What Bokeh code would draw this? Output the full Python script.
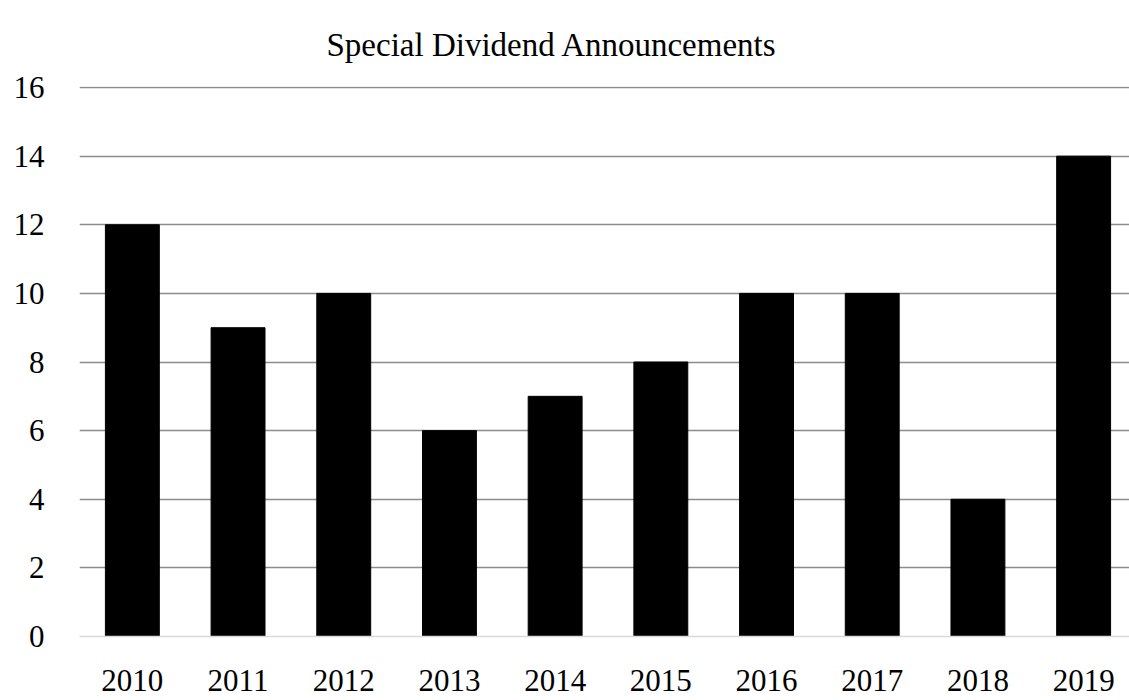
from bokeh.plotting import figure
from bokeh.models import Range1d, FixedTicker, Title
from bokeh.embed import file_html
from bokeh.resources import INLINE

years = ["2010", "2011", "2012", "2013", "2014", "2015", "2016", "2017", "2018", "2019"]
counts = [12, 9, 10, 6, 7, 8, 10, 10, 4, 14]
y_ticks = [0, 2, 4, 6, 8, 10, 12, 14, 16]
title_text = "Special Dividend Announcements"

xs = list(range(len(years)))
FONT = "Liberation Serif"

p = figure(width=1129, height=700, output_backend="svg", toolbar_location=None,
           x_range=Range1d(-0.5, 9.434), y_range=Range1d(0, 16.03),
           min_border_left=79, min_border_right=0, min_border_top=86, min_border_bottom=64)
p.title = None
p.add_layout(Title(text=title_text, align="left", offset=247, vertical_align="top",
                   text_font=FONT, text_font_size="33px", text_font_style="normal",
                   text_color="#000000", standoff=44), "above")

p.vbar(x=xs, top=counts, width=0.51, fill_color="#000000", line_color="#000000", line_width=1)

p.outline_line_color = None
p.background_fill_color = "white"
p.border_fill_color = "white"

p.xgrid.grid_line_color = None
p.ygrid.ticker = FixedTicker(ticks=y_ticks[1:])
p.ygrid.grid_line_color = "#8c8c8c"
p.ygrid.grid_line_width = 1.5

p.xaxis.ticker = FixedTicker(ticks=xs)
p.xaxis.major_label_overrides = {i: y for i, y in enumerate(years)}
p.xaxis.axis_line_color = "#d9d9d9"
p.xaxis.axis_line_width = 1.5
p.xaxis.major_tick_line_color = None
p.xaxis.minor_tick_line_color = None
p.xaxis.major_label_text_font = FONT
p.xaxis.major_label_text_font_size = "31px"
p.xaxis.major_label_text_color = "#000000"
p.xaxis.major_label_standoff = 27

p.yaxis.ticker = FixedTicker(ticks=y_ticks)
p.yaxis.axis_line_color = None
p.yaxis.major_tick_line_color = None
p.yaxis.minor_tick_line_color = None
p.yaxis.major_label_text_font = FONT
p.yaxis.major_label_text_font_size = "31px"
p.yaxis.major_label_text_color = "#000000"
p.yaxis.major_label_standoff = 29

open("out.html", "w").write(file_html(p, INLINE))
